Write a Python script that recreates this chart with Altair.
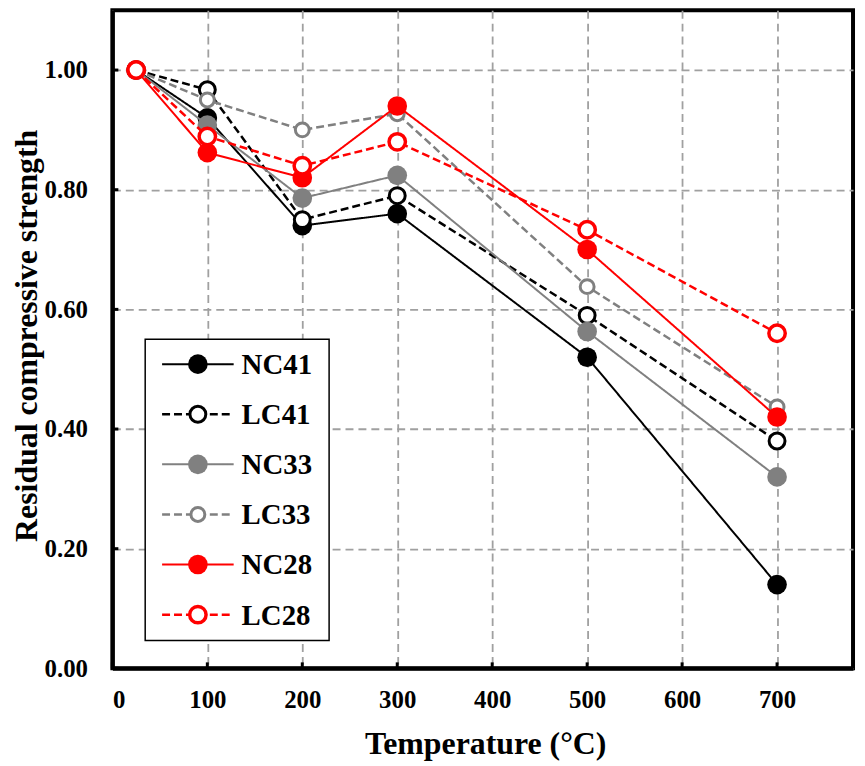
import altair as alt
import pandas as pd

# temperature (deg C) and residual strength ratio per mix
temps = [25, 100, 200, 300, 500, 700]
names = ["NC41", "LC41", "NC33", "LC33", "NC28", "LC28"]
nc41 = [1.00, 0.92, 0.74, 0.76, 0.52, 0.14]
lc41 = [1.00, 0.967, 0.75, 0.79, 0.59, 0.38]
nc33 = [1.00, 0.908, 0.786, 0.824, 0.563, 0.32]
lc33 = [1.00, 0.95, 0.90, 0.927, 0.638, 0.437]
nc28 = [1.00, 0.862, 0.82, 0.94, 0.70, 0.42]
lc28 = [1.00, 0.889, 0.84, 0.88, 0.733, 0.56]
values = [nc41, lc41, nc33, lc33, nc28, lc28]

x_ticks = [0, 100, 200, 300, 400, 500, 600, 700]
y_ticks = [0.0, 0.2, 0.4, 0.6, 0.8, 1.0]

FONT = "Liberation Serif"
W, H = 745, 662

# colour, dashed, filled, marker size, marker stroke
styles = {
    "NC41": ("#000000", False, True, 390, 0),
    "LC41": ("#000000", True, False, 256, 3),
    "NC33": ("#808080", False, True, 390, 0),
    "LC33": ("#808080", True, False, 196, 3),
    "NC28": ("#ff0000", False, True, 390, 0),
    "LC28": ("#ff0000", True, False, 272, 3.5),
}

x_scale = alt.Scale(domain=[0, 780], nice=False)
y_scale = alt.Scale(domain=[0, 1.1], nice=False)
x_axis = alt.Axis(values=x_ticks, format="d", title="Temperature (°C)",
                  titleX=375, titleY=86, titleBaseline="alphabetic")
y_axis = alt.Axis(values=y_ticks, format=".2f", title="Residual compressive strength",
                  titleX=-76, titleY=327, titleBaseline="alphabetic")


def xe(field):
    return alt.X(field, scale=x_scale, axis=x_axis)


def ye(field):
    return alt.Y(field, scale=y_scale, axis=y_axis)


def marker(chart, color, filled, size, sw):
    if filled:
        return chart.mark_point(shape="circle", filled=True, color=color, size=size, opacity=1)
    return chart.mark_point(shape="circle", filled=False, stroke=color, fill="white",
                            fillOpacity=1, strokeWidth=sw, size=size, opacity=1)


layers = []
for name, vals in zip(names, values):
    color, dashed, filled, size, sw = styles[name]
    df = pd.DataFrame({"temp": temps, "value": vals, "series": name})
    base = alt.Chart(df).encode(x=xe("temp:Q"), y=ye("value:Q"))
    line = base.mark_line(color=color, strokeWidth=2.5 if dashed else 2,
                          strokeDash=[8, 4] if dashed else [1, 0])
    layers += [line, marker(base, color, filled, size, sw)]

# inward tick marks
xt = alt.Chart(pd.DataFrame({"t": x_ticks})).mark_rule(color="black", strokeWidth=3).encode(
    x=xe("t:Q"), y=alt.value(H), y2=alt.value(H - 6))
yt = alt.Chart(pd.DataFrame({"t": y_ticks})).mark_rule(color="black", strokeWidth=3).encode(
    y=ye("t:Q"), x=alt.value(0), x2=alt.value(6))
layers += [xt, yt]

# legend box
one = pd.DataFrame({"a": [0]})
layers.append(alt.Chart(one).mark_rect(fill="white", stroke="black", strokeWidth=1.5).encode(
    x=alt.value(33), x2=alt.value(218), y=alt.value(331), y2=alt.value(634)))
for i, name in enumerate(names):
    color, dashed, filled, size, sw = styles[name]
    yc = 356 + i * 50.4
    ldf = pd.DataFrame({"name": [name]})
    layers.append(alt.Chart(ldf).mark_rule(color=color, strokeWidth=2.5 if dashed else 2,
                                           strokeDash=[8, 4] if dashed else [1, 0]).encode(
        x=alt.value(50), x2=alt.value(122), y=alt.value(yc)))
    layers.append(marker(alt.Chart(ldf), color, filled, size, sw).encode(
        x=alt.value(86), y=alt.value(yc)))
    layers.append(alt.Chart(ldf).mark_text(font=FONT, fontSize=29, fontWeight="bold", color="black",
                                           align="left", baseline="middle").encode(
        x=alt.value(130), y=alt.value(yc + 1), text="name:N"))

chart = alt.layer(*layers).properties(
    width=W, height=H,
    autosize=alt.AutoSizeParams(type="none"),
    padding={"left": 105, "top": 0, "right": 4, "bottom": 95},
).configure_view(
    stroke="black", strokeWidth=4
).configure_axis(
    domainColor="black", domainWidth=4, ticks=False,
    grid=True, gridColor="#a0a0a0", gridDash=[8, 5], gridWidth=1.8,
    labelFont=FONT, labelFontSize=25, labelFontWeight="bold", labelColor="black",
    titleFont=FONT, titleFontSize=32, titleFontWeight="bold", titleColor="black",
).configure_axisX(
    labelPadding=19
).configure_axisY(
    labelPadding=25
)

chart.save("out.html", embed_options={"renderer": "svg", "actions": False})
